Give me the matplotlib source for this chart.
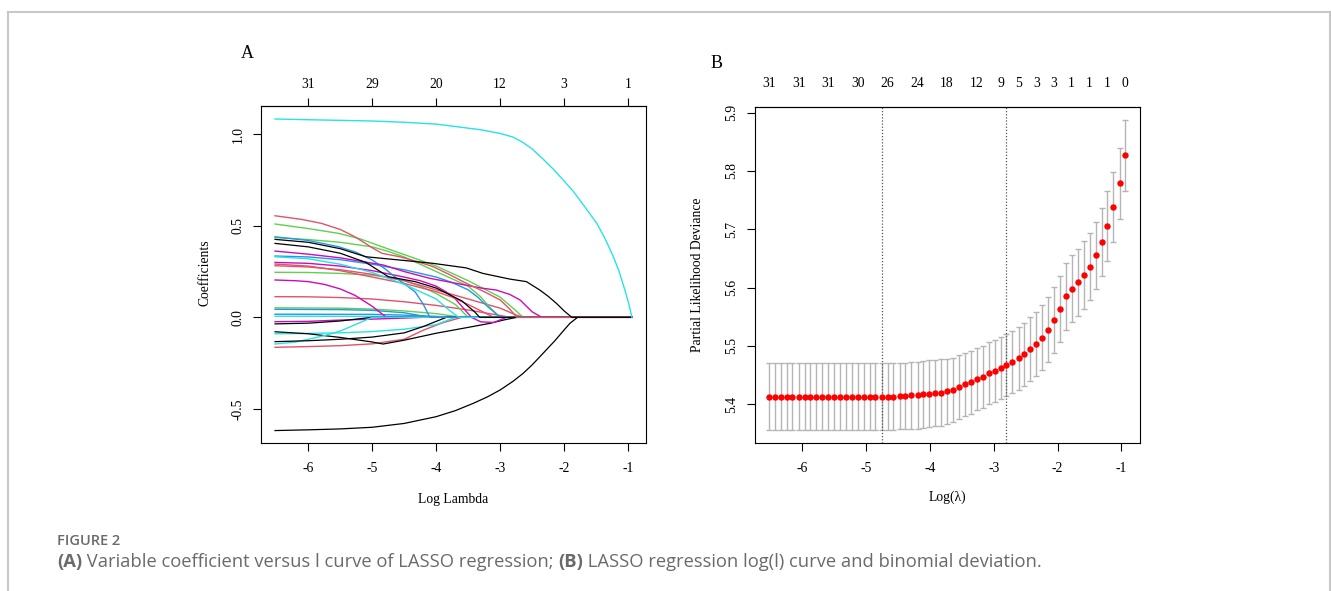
import matplotlib.pyplot as plt
from matplotlib.lines import Line2D

plt.rcParams['font.family'] = ['Liberation Serif', 'DejaVu Serif']
plt.rcParams['axes.unicode_minus'] = False

W, H = 1331, 591

# R default palette used by plot.glmnet
BLACK, PINK, GREEN, BLUE, CYAN, MAGENTA = '#000000', '#DF536B', '#61D04F', '#2297E6', '#28E2E5', '#CD0BBC'

# ---- panel A: coefficient paths (log lambda, coefficient)
cyan_big = [(-6.52, 1.084), (-6.0, 1.080), (-5.0, 1.073), (-4.5, 1.066), (-4.0, 1.056), (-3.68, 1.042),
            (-3.3, 1.025), (-3.0, 1.005), (-2.8, 0.985), (-2.64, 0.955), (-2.5, 0.92), (-2.33, 0.865),
            (-2.17, 0.81), (-2.0, 0.745), (-1.86, 0.69), (-1.7, 0.615), (-1.49, 0.514), (-1.36, 0.43),
            (-1.23, 0.331), (-1.14, 0.25), (-1.05, 0.149), (-0.99, 0.075), (-0.94, 0.0)]
black_neg = [(-6.52, -0.619), (-6.0, -0.615), (-5.5, -0.61), (-5.0, -0.601), (-4.5, -0.58), (-4.0, -0.543),
             (-3.7, -0.51), (-3.42, -0.47), (-3.2, -0.435), (-3.0, -0.397), (-2.8, -0.35), (-2.64, -0.306),
             (-2.5, -0.26), (-2.33, -0.197), (-2.15, -0.13), (-2.0, -0.069), (-1.91, -0.033), (-1.79, 0.0)]
black_keep = [(-6.52, 0.426), (-6.0, 0.41), (-5.5, 0.375), (-5.1, 0.331), (-4.57, 0.313), (-4.05, 0.295),
              (-3.53, 0.27), (-3.27, 0.24), (-3.0, 0.22), (-2.85, 0.209), (-2.59, 0.195), (-2.38, 0.149),
              (-2.25, 0.115), (-2.12, 0.076), (-2.0, 0.035), (-1.88, 0.0)]
black_2 = [(-6.52, 0.404), (-6.0, 0.385), (-5.5, 0.35), (-5.1, 0.30), (-4.75, 0.222), (-4.33, 0.195),
           (-4.0, 0.16), (-3.6, 0.09), (-3.4, 0.03), (-3.32, 0.0)]
pink_1 = [(-6.52, 0.555), (-6.1, 0.535), (-5.79, 0.513), (-5.5, 0.48), (-5.27, 0.44), (-5.0, 0.38),
          (-4.85, 0.35), (-4.57, 0.331), (-4.3, 0.305), (-4.05, 0.277), (-3.8, 0.235), (-3.53, 0.186),
          (-3.25, 0.14), (-3.0, 0.095), (-2.85, 0.045), (-2.74, 0.0)]
green_1 = [(-6.52, 0.51), (-6.0, 0.485), (-5.53, 0.459), (-5.2, 0.43), (-4.85, 0.386), (-4.6, 0.355),
           (-4.33, 0.322), (-4.0, 0.28), (-3.75, 0.24), (-3.5, 0.2), (-3.25, 0.155), (-3.0, 0.11),
           (-2.8, 0.05), (-2.64, 0.0)]
blue_1 = [(-6.52, 0.44), (-6.0, 0.42), (-5.53, 0.386), (-5.25, 0.355), (-5.0, 0.313), (-4.8, 0.265),
          (-4.65, 0.222), (-4.45, 0.17), (-4.33, 0.139), (-4.2, 0.07), (-4.1, 0.0)]
green_2 = [(-6.52, 0.436), (-6.0, 0.425), (-5.5, 0.41), (-5.0, 0.385), (-4.75, 0.36), (-4.5, 0.33),
           (-4.25, 0.29), (-4.0, 0.25), (-3.75, 0.21), (-3.5, 0.17), (-3.3, 0.11), (-3.15, 0.05), (-3.0, 0.0)]
magenta_1 = [(-6.52, 0.362), (-6.0, 0.345), (-5.5, 0.325), (-4.83, 0.286), (-4.5, 0.25), (-4.10, 0.213),
             (-3.6, 0.18), (-3.3, 0.16), (-3.06, 0.149), (-2.85, 0.125), (-2.69, 0.095), (-2.5, 0.03), (-2.35, 0.0)]
cyan_1 = [(-6.52, 0.331), (-6.0, 0.32), (-5.5, 0.29), (-5.0, 0.245), (-4.5, 0.18), (-4.25, 0.14), (-4.0, 0.1),
          (-3.8, 0.04), (-3.65, 0.0)]
blue_2 = [(-6.52, 0.335), (-6.0, 0.33), (-5.5, 0.315), (-5.0, 0.29), (-4.5, 0.26), (-4.0, 0.22), (-3.75, 0.19),
          (-3.5, 0.15), (-3.35, 0.11), (-3.2, 0.06), (-3.0, 0.0)]
magenta_2 = [(-6.52, 0.300), (-6.0, 0.295), (-5.5, 0.28), (-5.0, 0.255), (-4.5, 0.22), (-4.25, 0.2),
             (-4.0, 0.17), (-3.85, 0.14), (-3.7, 0.1), (-3.55, 0.04), (-3.45, 0.0), (-3.3, -0.025),
             (-3.1, -0.028), (-2.9, 0.0)]
pink_2 = [(-6.52, 0.291), (-6.0, 0.28), (-5.5, 0.255), (-5.0, 0.22), (-4.5, 0.185), (-4.0, 0.14),
          (-3.75, 0.11), (-3.5, 0.07), (-3.3, 0.035), (-3.1, 0.0)]
pink_3 = [(-6.52, 0.282), (-6.0, 0.275), (-5.5, 0.26), (-5.0, 0.235), (-4.5, 0.2), (-4.0, 0.15), (-3.5, 0.1),
          (-3.0, 0.05), (-2.8, 0.02), (-2.65, 0.0)]
green_3 = [(-6.52, 0.246), (-6.0, 0.245), (-5.5, 0.24), (-5.0, 0.23), (-4.75, 0.218), (-4.5, 0.2),
           (-4.25, 0.17), (-4.0, 0.13), (-3.7, 0.07), (-3.5, 0.0)]
magenta_3 = [(-6.52, 0.204), (-6.2, 0.2), (-6.0, 0.195), (-5.75, 0.18), (-5.5, 0.155), (-5.27, 0.12),
             (-5.0, 0.06), (-4.78, 0.0)]
pink_4 = [(-6.52, 0.113), (-6.0, 0.112), (-5.5, 0.108), (-5.0, 0.1), (-4.5, 0.085), (-4.0, 0.065), (-3.5, 0.04),
          (-3.0, 0.01), (-2.85, 0.0)]
green_4 = [(-6.52, 0.052), (-5.5, 0.05), (-5.0, 0.045), (-4.5, 0.035), (-4.0, 0.02), (-3.6, 0.0)]
blue_3 = [(-6.52, 0.044), (-5.5, 0.042), (-5.0, 0.038), (-4.5, 0.025), (-4.1, 0.0)]
blue_4 = [(-6.52, 0.017), (-5.0, 0.016), (-4.5, 0.012), (-4.0, 0.005), (-3.8, 0.0)]
cyan_2 = [(-6.52, 0.006), (-5.0, 0.005), (-4.5, 0.003), (-4.2, 0.0)]
magenta_4 = [(-6.52, -0.024), (-6.0, -0.022), (-5.5, -0.015), (-5.0, -0.01), (-4.5, -0.004), (-4.2, 0.0)]
black_3 = [(-6.52, -0.036), (-6.0, -0.032), (-5.5, -0.02), (-5.2, -0.008), (-5.0, 0.0)]
black_4 = [(-6.52, -0.079), (-6.0, -0.09), (-5.5, -0.11), (-5.0, -0.135), (-4.83, -0.146), (-4.5, -0.125),
           (-4.0, -0.087), (-3.5, -0.055), (-3.16, -0.033), (-2.95, -0.015), (-2.74, 0.0)]
cyan_3 = [(-6.52, -0.09), (-6.0, -0.088), (-5.5, -0.085), (-5.0, -0.078), (-4.5, -0.065), (-4.0, -0.04),
          (-3.85, -0.02), (-3.7, 0.0)]
black_5 = [(-6.52, -0.133), (-6.0, -0.128), (-5.5, -0.12), (-5.0, -0.108), (-4.5, -0.085), (-4.2, -0.05),
           (-4.0, -0.022), (-3.84, 0.0)]
cyan_4 = [(-6.52, -0.146), (-6.2, -0.135), (-6.0, -0.12), (-5.75, -0.1), (-5.5, -0.075), (-5.2, -0.03), (-5.0, 0.0)]
pink_5 = [(-6.52, -0.164), (-6.0, -0.16), (-5.5, -0.155), (-5.0, -0.145), (-4.5, -0.12), (-4.2, -0.07),
          (-3.9, -0.03), (-3.6, 0.0)]

top_pos_a = [-6, -5, -4, -3, -2, -1]
top_labels_a = ['31', '29', '20', '12', '3', '1']

# ---- panel B: cross-validation curve
log_lambda = [-6.52, -6.43, -6.33, -6.24, -6.15, -6.05, -5.96, -5.87, -5.78, -5.68,
              -5.59, -5.50, -5.40, -5.31, -5.22, -5.12, -5.03, -4.94, -4.85, -4.75,
              -4.66, -4.57, -4.47, -4.38, -4.29, -4.19, -4.10, -4.01, -3.92, -3.82,
              -3.73, -3.64, -3.54, -3.45, -3.36, -3.26, -3.17, -3.08, -2.98, -2.89,
              -2.80, -2.71, -2.61, -2.52, -2.43, -2.33, -2.24, -2.15, -2.06, -1.96,
              -1.87, -1.78, -1.68, -1.59, -1.50, -1.40, -1.31, -1.22, -1.13, -1.03, -0.94]
deviance = [5.413, 5.413, 5.413, 5.413, 5.413, 5.413, 5.413, 5.413, 5.413, 5.413,
            5.413, 5.413, 5.413, 5.413, 5.413, 5.413, 5.413, 5.413, 5.413, 5.413,
            5.413, 5.413, 5.414, 5.414, 5.415, 5.415, 5.417, 5.418, 5.419, 5.420,
            5.422, 5.425, 5.429, 5.434, 5.438, 5.443, 5.447, 5.453, 5.457, 5.462,
            5.467, 5.473, 5.479, 5.486, 5.494, 5.503, 5.514, 5.528, 5.544, 5.563,
            5.585, 5.598, 5.609, 5.621, 5.636, 5.655, 5.678, 5.705, 5.738, 5.779, 5.827]
deviance_se = [0.057, 0.057, 0.057, 0.057, 0.057, 0.057, 0.057, 0.057, 0.057, 0.057,
               0.057, 0.057, 0.057, 0.057, 0.057, 0.057, 0.057, 0.057, 0.057, 0.057,
               0.057, 0.057, 0.057, 0.057, 0.057, 0.057, 0.057, 0.057, 0.057, 0.057,
               0.056, 0.055, 0.055, 0.054, 0.054, 0.053, 0.053, 0.053, 0.053, 0.053,
               0.053, 0.053, 0.054, 0.054, 0.055, 0.055, 0.056, 0.056, 0.057, 0.057,
               0.057, 0.057, 0.057, 0.058, 0.058, 0.058, 0.059, 0.060, 0.060, 0.061, 0.061]
log_lambda_min = -4.75
log_lambda_1se = -2.80
top_pos_b = [-6.52, -6.05, -5.59, -5.12, -4.66, -4.19, -3.73, -3.26, -2.89, -2.61,
             -2.33, -2.06, -1.78, -1.50, -1.22, -0.94]
top_labels_b = ['31', '31', '31', '30', '26', '24', '18', '12', '9', '5', '3', '3', '1', '1', '1', '0']


def px_box(left, top, right, bottom):
    return [left / W, 1 - bottom / H, (right - left) / W, (bottom - top) / H]


fig = plt.figure(figsize=(W / 100, H / 100), dpi=100)

# frame around the figure
frame_kw = dict(color='#c8c8c8', lw=1.5, transform=fig.transFigure)
fig.add_artist(Line2D([7.5 / W, 1330 / W], [1 - 11.5 / H, 1 - 11.5 / H], **frame_kw))
fig.add_artist(Line2D([7.5 / W, 7.5 / W], [0, 1 - 11.5 / H], **frame_kw))
fig.add_artist(Line2D([1330 / W, 1330 / W], [0, 1 - 11.5 / H], **frame_kw))

FS = 9.8

# ---------------- panel A
ax = fig.add_axes(px_box(261, 106, 646, 443))
paths = [
    (BLACK, black_neg), (PINK, pink_5), (GREEN, green_4), (BLUE, blue_3), (CYAN, cyan_2), (MAGENTA, magenta_4),
    (BLACK, black_3), (PINK, pink_4), (GREEN, green_3), (BLUE, blue_4), (CYAN, cyan_3), (MAGENTA, magenta_3),
    (BLACK, black_4), (PINK, pink_3), (GREEN, green_2), (BLUE, blue_2), (CYAN, cyan_4), (MAGENTA, magenta_2),
    (BLACK, black_5), (PINK, pink_2), (GREEN, green_1), (BLUE, blue_1), (CYAN, cyan_1), (MAGENTA, magenta_1),
    (BLACK, black_2), (PINK, pink_1), (BLACK, black_keep), (CYAN, cyan_big),
]
for color, pts in paths:
    xs = [p[0] for p in pts] + [-0.94]
    ys = [p[1] for p in pts] + [0.0]
    lw = 0.9 if color == BLACK else 1.0
    ax.plot(xs, ys, color=color, lw=lw, solid_joinstyle='round')

ax.set_xlim(-6.74, -0.72)
ax.set_ylim(-0.687, 1.155)
ax.set_xticks([-6, -5, -4, -3, -2, -1])
ax.set_yticks([-0.5, 0.0, 0.5, 1.0])
ax.set_yticklabels(['-0.5', '0.0', '0.5', '1.0'], rotation=90, va='center')
ax.tick_params(direction='out', length=6, width=0.8, labelsize=FS, pad=8)
ax.tick_params(axis='y', pad=6)
top_a = ax.secondary_xaxis('top')
top_a.set_xticks(top_pos_a, top_labels_a)
top_a.tick_params(direction='out', length=6, width=0.8, labelsize=FS, pad=5)
for a in (ax, top_a):
    for s in a.spines.values():
        s.set_linewidth(0.8)

fig.text(247 / W, 1 - 54 / H, 'A', fontsize=13, ha='center', va='center')
fig.text(205 / W, 1 - 273 / H, 'Coefficients', fontsize=FS, rotation=90, ha='center', va='center')
fig.text(453 / W, 1 - 500 / H, 'Log Lambda', fontsize=FS, ha='center', va='center')

# ---------------- panel B
bx = fig.add_axes(px_box(754.7, 106.7, 1140, 442.7))
bx.errorbar(log_lambda, deviance, yerr=deviance_se, fmt='none', ecolor='#b5b5b5',
            elinewidth=1.0, capsize=2.3, capthick=1.0, zorder=1)
bx.plot(log_lambda, deviance, 'o', color='#ff0000', markersize=4.6, markeredgewidth=0, zorder=3)
bx.axvline(log_lambda_min, color='#555555', lw=0.9, ls=(0, (1, 1.5)), zorder=2)
bx.axvline(log_lambda_1se, color='#555555', lw=0.9, ls=(0, (1, 1.5)), zorder=2)
bx.set_xlim(-6.74, -0.71)
bx.set_ylim(5.334, 5.910)
bx.set_xticks([-6, -5, -4, -3, -2, -1])
bx.set_yticks([5.4, 5.5, 5.6, 5.7, 5.8, 5.9])
bx.set_yticklabels(['5.4', '5.5', '5.6', '5.7', '5.8', '5.9'], rotation=90, va='center')
bx.tick_params(direction='out', length=6, width=0.8, labelsize=FS, pad=8)
bx.tick_params(axis='y', pad=6)
top_b = bx.secondary_xaxis('top')
top_b.set_xticks(top_pos_b, top_labels_b)
top_b.tick_params(length=0, labelsize=FS, pad=12)
for s in bx.spines.values():
    s.set_linewidth(0.8)
top_b.spines['top'].set_linewidth(0.8)

fig.text(717 / W, 1 - 63 / H, 'B', fontsize=13, ha='center', va='center')
fig.text(698 / W, 1 - 275 / H, 'Partial Likelihood Deviance', fontsize=FS, rotation=90, ha='center', va='center')
fig.text(947 / W, 1 - 497 / H, 'Log(λ)', fontsize=FS, ha='center', va='center')

# ---------------- caption
cap_color = '#6a6a6a'
cap_font = ['Open Sans', 'DejaVu Sans']
fig.text(57 / W, 1 - 545 / H, 'FIGURE 2', fontsize=10.5, fontweight='semibold', color=cap_color,
         family=cap_font, va='baseline')

renderer = fig.canvas.get_renderer()
pieces = [('(A)', 'bold'), (' Variable coefficient versus l curve of LASSO regression; ', 'normal'),
          ('(B)', 'bold'), (' LASSO regression log(l) curve and binomial deviation.', 'normal')]
x_px = 57
for txt, weight in pieces:
    t = fig.text(x_px / W, 1 - 567 / H, txt, fontsize=13.2, fontweight=weight, color=cap_color,
                 family=cap_font, va='baseline')
    x_px += t.get_window_extent(renderer).width

fig.savefig('out.png', dpi=100)
